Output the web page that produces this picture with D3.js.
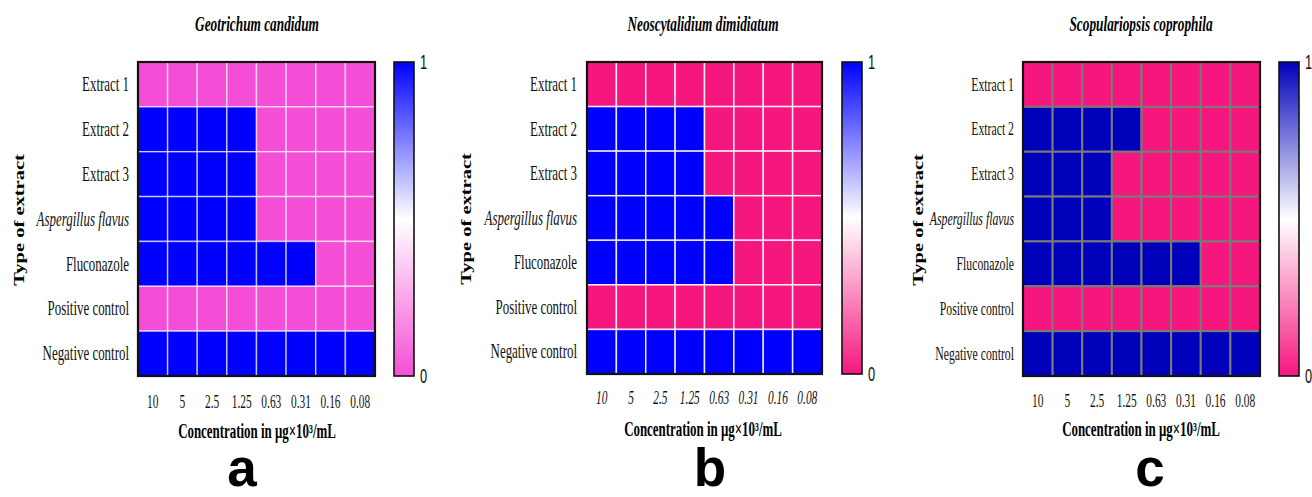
<!DOCTYPE html>
<html>
<head>
<meta charset="utf-8">
<script src="https://cdn.jsdelivr.net/npm/d3@7"></script>
<style>
  body { margin: 0; background: #fff; }
  svg { display: block; }
</style>
</head>
<body>
<svg id="chart" width="1312" height="497"></svg>
<script>
// data
var concentrations = ["10", "5", "2.5", "1.25", "0.63", "0.31", "0.16", "0.08"];
var extracts = ["Extract 1", "Extract 2", "Extract 3", "Aspergillus flavus", "Fluconazole", "Positive control", "Negative control"];
var titles = ["Geotrichum candidum", "Neoscytalidium dimidiatum", "Scopulariopsis coprophila"];
var letters = ["a", "b", "c"];

// 1 = growth inhibited (blue), 0 = not (pink)
var geotrichum = [
  [0, 0, 0, 0, 0, 0, 0, 0],
  [1, 1, 1, 1, 0, 0, 0, 0],
  [1, 1, 1, 1, 0, 0, 0, 0],
  [1, 1, 1, 1, 0, 0, 0, 0],
  [1, 1, 1, 1, 1, 1, 0, 0],
  [0, 0, 0, 0, 0, 0, 0, 0],
  [1, 1, 1, 1, 1, 1, 1, 1]
];
var neoscytalidium = [
  [0, 0, 0, 0, 0, 0, 0, 0],
  [1, 1, 1, 1, 0, 0, 0, 0],
  [1, 1, 1, 1, 0, 0, 0, 0],
  [1, 1, 1, 1, 1, 0, 0, 0],
  [1, 1, 1, 1, 1, 0, 0, 0],
  [0, 0, 0, 0, 0, 0, 0, 0],
  [1, 1, 1, 1, 1, 1, 1, 1]
];
var scopulariopsis = [
  [0, 0, 0, 0, 0, 0, 0, 0],
  [1, 1, 1, 1, 0, 0, 0, 0],
  [1, 1, 1, 0, 0, 0, 0, 0],
  [1, 1, 1, 0, 0, 0, 0, 0],
  [1, 1, 1, 1, 1, 1, 0, 0],
  [0, 0, 0, 0, 0, 0, 0, 0],
  [1, 1, 1, 1, 1, 1, 1, 1]
];
var colorbarTicks = [0, 1];

var SERIF = "'Liberation Serif', 'Times New Roman', serif";
var SANS = "'Liberation Sans', Arial, sans-serif";
var SQUEEZE = 0.64;   // the figure is horizontally compressed

var panels = [
  { data: geotrichum, x0: 138, x1: 375, y0: 62, y1: 376, cb: 394, titleX: 257, labelX: 129, labelFs: 20.2,
    tickY: 408, xTitleY: 438, yTitleX: 18, letterX: 242, low: "#f44ed6", high: "#0000ff",
    grid: "rgba(255,255,255,0.6)", gridW: 1.5, italicTicks: false },
  { data: neoscytalidium, x0: 587, x1: 822, y0: 62, y1: 374, cb: 842, titleX: 703, labelX: 577, labelFs: 20.2,
    tickY: 404, xTitleY: 436, yTitleX: 465, letterX: 710, low: "#f5167e", high: "#0000ff",
    grid: "rgba(255,255,255,0.85)", gridW: 1.5, italicTicks: true },
  { data: scopulariopsis, x0: 1023, x1: 1260, y0: 62, y1: 376, cb: 1279, titleX: 1141, labelX: 1014, labelFs: 18.4,
    tickY: 407, xTitleY: 436, yTitleX: 917, letterX: 1150, low: "#f5167e", high: "#0000bb",
    grid: "#7a7a7a", gridW: 2, italicTicks: false }
];

var svg = d3.select("#chart");
var defs = svg.append("defs");

// squeezed text helper
function squeezed(g, x, y, txt, fs) {
  return g.append("text")
    .attr("transform", "translate(" + x + "," + y + ") scale(" + SQUEEZE + ",1)")
    .attr("font-family", SERIF)
    .attr("font-size", fs)
    .text(txt);
}

panels.forEach(function(p, pi) {
  var g = svg.append("g");

  var x = d3.scaleBand().domain(concentrations).range([p.x0, p.x1]);
  var y = d3.scaleBand().domain(extracts).range([p.y0, p.y1]);
  var color = d3.scaleLinear().domain([0, 0.5, 1]).range([p.low, "#ffffff", p.high]);

  var cells = [];
  p.data.forEach(function(row, r) {
    row.forEach(function(v, c) {
      cells.push({ row: extracts[r], col: concentrations[c], value: v });
    });
  });

  g.selectAll("rect.cell")
    .data(cells)
    .enter().append("rect")
    .attr("class", "cell")
    .attr("x", function(d) { return x(d.col); })
    .attr("y", function(d) { return y(d.row); })
    .attr("width", x.bandwidth())
    .attr("height", y.bandwidth())
    .attr("fill", function(d) { return color(d.value); })
    .attr("stroke", p.grid)
    .attr("stroke-width", p.gridW);

  // frame
  g.append("rect")
    .attr("x", p.x0).attr("y", p.y0)
    .attr("width", p.x1 - p.x0).attr("height", p.y1 - p.y0)
    .attr("fill", "none").attr("stroke", "#111").attr("stroke-width", 2.2);

  // row labels
  extracts.forEach(function(name) {
    var t = squeezed(g, p.labelX, y(name) + y.bandwidth() / 2 + p.labelFs * 0.33, name, p.labelFs)
      .attr("text-anchor", "end")
      .attr("fill", "#111");
    if (name === "Aspergillus flavus") t.attr("font-style", "italic");
  });

  // column labels
  concentrations.forEach(function(c) {
    squeezed(g, x(c) + x.bandwidth() / 2, p.tickY, c, 17.8)
      .attr("text-anchor", "middle")
      .attr("fill", "#111")
      .attr("font-style", p.italicTicks ? "italic" : "normal");
  });

  // titles
  squeezed(g, p.titleX, 31, titles[pi], 20.8)
    .attr("text-anchor", "middle")
    .attr("font-weight", "bold")
    .attr("font-style", "italic");

  squeezed(g, p.titleX, p.xTitleY, "Concentration in μg×10³/mL", 20.2)
    .attr("text-anchor", "middle")
    .attr("font-weight", "bold");

  g.append("text")
    .attr("transform", "translate(" + (p.yTitleX + 6) + "," + ((p.y0 + p.y1) / 2 + 1) + ") rotate(-90) scale(1,0.72)")
    .attr("text-anchor", "middle")
    .attr("font-family", SERIF)
    .attr("font-size", 20.5)
    .attr("font-weight", "bold")
    .text("Type of extract");

  // colour bar
  var gid = "grad" + pi;
  var grad = defs.append("linearGradient")
    .attr("id", gid).attr("x1", 0).attr("y1", 1).attr("x2", 0).attr("y2", 0);
  [0, 0.5, 1].forEach(function(s) {
    grad.append("stop").attr("offset", s).attr("stop-color", color(s));
  });
  var cbScale = d3.scaleLinear().domain([0, 1]).range([p.y1, p.y0]);
  g.append("rect")
    .attr("x", p.cb).attr("y", p.y0)
    .attr("width", 20).attr("height", p.y1 - p.y0)
    .attr("fill", "url(#" + gid + ")")
    .attr("stroke", "#111").attr("stroke-width", 1.6);
  colorbarTicks.forEach(function(t) {
    g.append("text")
      .attr("transform", "translate(" + (p.cb + 26) + "," + (cbScale(t) + 7) + ") scale(" + SQUEEZE + ",1)")
      .attr("font-family", SANS)
      .attr("font-size", 20)
      .attr("fill", "#111")
      .text(t);
  });

  // panel letter
  g.append("text")
    .attr("x", p.letterX).attr("y", 486)
    .attr("text-anchor", "middle")
    .attr("font-family", SANS)
    .attr("font-weight", "bold")
    .attr("font-size", 53)
    .text(letters[pi]);
});
</script>
</body>
</html>
